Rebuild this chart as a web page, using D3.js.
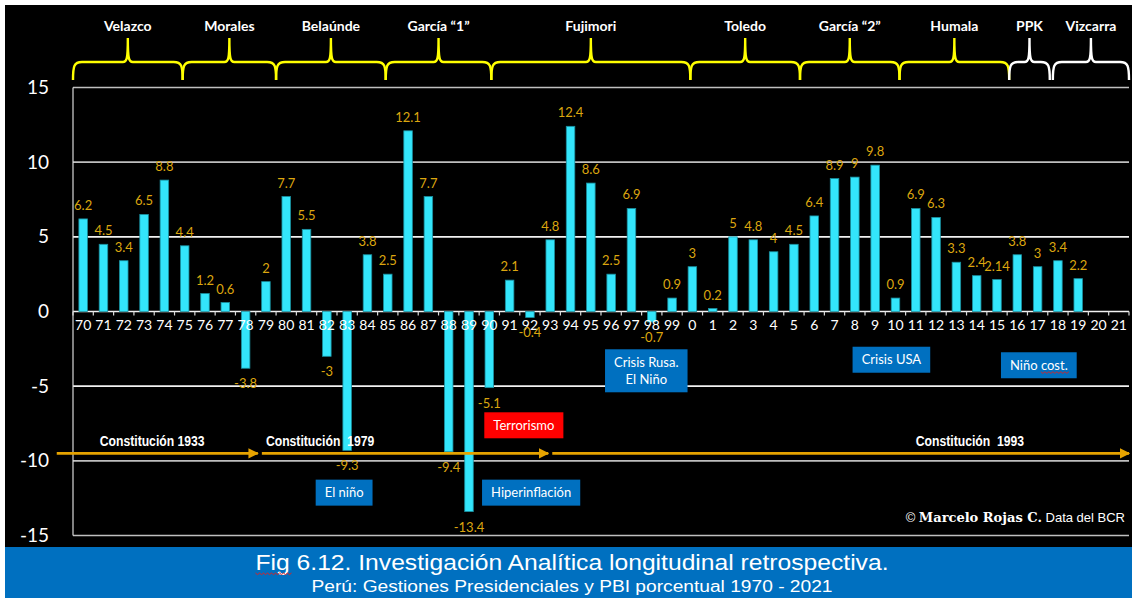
<!DOCTYPE html>
<html lang="es">
<head>
<meta charset="utf-8">
<title>PBI Perú 1970-2021</title>
<script src="https://d3js.org/d3.v7.min.js"></script>
<style>
  body { margin: 0; background: #fff; }
  svg { display: block; }
</style>
</head>
<body>
<div id="chart"></div>
<script>

// Years on the axis and PBI growth (%)
var years = ["70","71","72","73","74","75","76","77","78","79",
             "80","81","82","83","84","85","86","87","88","89",
             "90","91","92","93","94","95","96","97","98","99",
             "0","1","2","3","4","5","6","7","8","9",
             "10","11","12","13","14","15","16","17","18","19","20","21"];
var pbi = [6.2, 4.5, 3.4, 6.5, 8.8, 4.4, 1.2, 0.6, -3.8, 2,
           7.7, 5.5, -3, -9.3, 3.8, 2.5, 12.1, 7.7, -9.4, -13.4,
           -5.1, 2.1, -0.4, 4.8, 12.4, 8.6, 2.5, 6.9, -0.7, 0.9,
           3, 0.2, 5, 4.8, 4, 4.5, 6.4, 8.9, 9, 9.8,
           0.9, 6.9, 6.3, 3.3, 2.4, 2.14, 3.8, 3, 3.4, 2.2, null, null];
var yTicks = [15, 10, 5, 0, -5, -10, -15];

// presidential terms (in years)
var presidents = ["Velazco", "Morales", "Belaúnde", "García “1”", "Fujimori",
                  "Toledo", "García “2”", "Humala", "PPK", "Vizcarra"];
var termStart = [1970, 1975.4, 1980, 1985.4, 1990.6, 2000.4, 2005.8, 2010.7, 2016.1, 2018.25];
var termEnd   = [1975.4, 1980, 1985.4, 1990.6, 2000.4, 2005.8, 2010.7, 2016.1, 2018.1, 2022];
var termWhite = [false, false, false, false, false, false, false, false, true, true];

// constitutions
var constitutions = ["Constitución 1933", "Constitución  1979", "Constitución  1993"];
var constFrom = [1969.2, 1979.3, 1993.6];
var constTo   = [1979.1, 1993.4, 2022];
var constText = [1973.9, 1979.5, 2011.5];

// events
var events     = [["Terrorismo"], ["El niño"], ["Hiperinflación"], ["Crisis Rusa.", "El Niño"], ["Crisis USA"], ["Niño cost."]];
var eventYear  = [1992.2, 1983.35, 1992.56, 1998.23, 2010.3, 2017.56];
var eventValue = [-7.62, -12.13, -12.13, -3.97, -3.23, -3.6];
var eventColor = ["#ff0000", "#0070c0", "#0070c0", "#0070c0", "#0070c0", "#0070c0"];

var width = 1134, height = 598;
var plotLeft = 73, plotRight = 1129, plotTop = 87.5, plotBottom = 535.5;

var svg = d3.select("#chart")
  .append("svg")
  .attr("width", width)
  .attr("height", height);

// backgrounds
svg.append("rect").attr("x", 5).attr("y", 5).attr("width", 1127).attr("height", 543).attr("fill", "#000");
svg.append("rect").attr("x", 5).attr("y", 547).attr("width", 1127).attr("height", 51).attr("fill", "#0070c0");

var x = d3.scaleBand()
  .domain(years)
  .range([plotLeft, plotRight])
  .paddingInner(0.58)
  .paddingOuter(0.29);

var xYear = d3.scaleLinear().domain([1970, 2022]).range([plotLeft, plotRight]);

var y = d3.scaleLinear().domain([-15, 15]).range([plotBottom, plotTop]);

var fontMain = "Lato, 'Open Sans', sans-serif";
var fontNarrow = "'Liberation Sans Narrow', 'Arial Narrow', 'Liberation Sans', sans-serif";

// gridlines
svg.append("g")
  .selectAll("line")
  .data(yTicks)
  .enter()
  .append("line")
    .attr("x1", plotLeft)
    .attr("x2", plotRight)
    .attr("y1", function(d) { return y(d); })
    .attr("y2", function(d) { return y(d); })
    .attr("stroke", function(d) { return (d === 5 || d === -5 || d === 0) ? "#f2f2f2" : "#bfbfbf"; })
    .attr("stroke-width", 1.6);

// y axis
svg.append("line")
  .attr("x1", plotLeft).attr("x2", plotLeft)
  .attr("y1", y(15)).attr("y2", y(-15))
  .attr("stroke", "#d9d9d9").attr("stroke-width", 1.2);

var yAxis = svg.append("g")
  .attr("transform", "translate(" + plotLeft + ",0)")
  .call(d3.axisLeft(y).tickValues(yTicks).tickSize(0).tickPadding(24).tickFormat(function(d) { return String(d); }));
yAxis.select(".domain").remove();
yAxis.selectAll("text")
  .attr("fill", "#fff")
  .style("font-family", fontMain)
  .style("font-size", "19px");

var barData = years.map(function(d, i) { return {year: d, value: pbi[i]}; })
  .filter(function(d) { return d.value !== null; });

// bars
svg.append("g")
  .selectAll("rect")
  .data(barData)
  .enter()
  .append("rect")
    .attr("x", function(d) { return x(d.year); })
    .attr("width", x.bandwidth())
    .attr("y", function(d) { return y(Math.max(0, d.value)); })
    .attr("height", function(d) { return Math.abs(y(d.value) - y(0)); })
    .attr("fill", "#33e5fb")
    .attr("stroke", "#1a8f9f")
    .attr("stroke-width", 0.8);

// x axis ticks at band boundaries
svg.append("g")
  .selectAll("line")
  .data(d3.range(1970, 2023))
  .enter()
  .append("line")
    .attr("x1", function(d) { return xYear(d); })
    .attr("x2", function(d) { return xYear(d); })
    .attr("y1", y(0))
    .attr("y2", y(0) + 4)
    .attr("stroke", "#d9d9d9")
    .attr("stroke-width", 1.2);

var xAxis = svg.append("g")
  .attr("transform", "translate(0," + y(0) + ")")
  .call(d3.axisBottom(x).tickSize(0).tickPadding(9));
xAxis.select(".domain").remove();
xAxis.selectAll("text")
  .attr("fill", "#fff")
  .style("font-family", fontMain)
  .style("font-size", "14px");

// value labels
svg.append("g")
  .selectAll("text")
  .data(barData)
  .enter()
  .append("text")
    .attr("x", function(d) { return x(d.year) + x.bandwidth() / 2; })
    .attr("y", function(d) { return d.value >= 0 ? y(d.value) - 9 : y(d.value) + 20; })
    .attr("text-anchor", "middle")
    .attr("fill", "#dca60f")
    .style("font-family", fontMain)
    .style("font-size", "13px")
    .text(function(d) { return String(d.value); });

// presidential braces
var armY = 62, endY = 80, peakY = 38;
function brace(x0, x1) {
  var xm = (x0 + x1) / 2;
  return "M" + x0 + "," + endY +
    " C" + x0 + "," + (armY + 4) + " " + (x0 + 1) + "," + armY + " " + (x0 + 9) + "," + armY +
    " L" + (xm - 5) + "," + armY +
    " C" + (xm - 1) + "," + armY + " " + xm + "," + (armY - 3) + " " + xm + "," + peakY +
    " C" + xm + "," + (armY - 3) + " " + (xm + 1) + "," + armY + " " + (xm + 5) + "," + armY +
    " L" + (x1 - 9) + "," + armY +
    " C" + (x1 - 1) + "," + armY + " " + x1 + "," + (armY + 4) + " " + x1 + "," + endY;
}
var terms = presidents.map(function(p, i) {
  return {name: p, from: termStart[i], to: termEnd[i], white: termWhite[i]};
});
var gTerms = svg.append("g");
gTerms.selectAll("path")
  .data(terms)
  .enter()
  .append("path")
    .attr("d", function(d) { return brace(xYear(d.from), xYear(d.to)); })
    .attr("fill", "none")
    .attr("stroke", function(d) { return d.white ? "#ffffff" : "#ffff00"; })
    .attr("stroke-width", 2.4);
gTerms.selectAll("text")
  .data(terms)
  .enter()
  .append("text")
    .attr("x", function(d) { return (xYear(d.from) + xYear(d.to)) / 2; })
    .attr("y", 31)
    .attr("text-anchor", "middle")
    .attr("fill", "#fff")
    .style("font-family", fontMain)
    .style("font-weight", "bold")
    .style("font-size", "14px")
    .text(function(d) { return d.name; });

// constitution arrows
var defs = svg.append("defs");
defs.append("marker")
  .attr("id", "arrow")
  .attr("viewBox", "0 0 10 10")
  .attr("refX", 9).attr("refY", 5)
  .attr("markerWidth", 4).attr("markerHeight", 4)
  .attr("orient", "auto")
  .append("path")
    .attr("d", "M0,0 L10,5 L0,10 Z")
    .attr("fill", "#e6a300");

var cons = constitutions.map(function(c, i) {
  return {name: c, from: constFrom[i], to: constTo[i], tx: constText[i]};
});
var gCons = svg.append("g");
gCons.selectAll("line")
  .data(cons)
  .enter()
  .append("line")
    .attr("x1", function(d) { return xYear(d.from); })
    .attr("x2", function(d) { return xYear(d.to); })
    .attr("y1", y(-9.5))
    .attr("y2", y(-9.5))
    .attr("stroke", "#e6a300")
    .attr("stroke-width", 2.6)
    .attr("marker-end", "url(#arrow)");
gCons.selectAll("text")
  .data(cons)
  .enter()
  .append("text")
    .attr("x", function(d) { return xYear(d.tx); })
    .attr("y", y(-9.5) - 7)
    .attr("text-anchor", function(d, i) { return i === 0 ? "middle" : "start"; })
    .attr("fill", "#fff")
    .style("font-family", fontNarrow)
    .style("font-weight", "bold")
    .style("font-size", "14px")
    .style("white-space", "pre")
    .text(function(d) { return d.name; })
    .each(function() {
      // narrow the face like the original condensed font
      var w = this.getComputedTextLength();
      d3.select(this).attr("textLength", w * 0.87).attr("lengthAdjust", "spacingAndGlyphs");
    });

// event boxes
var ev = events.map(function(e, i) {
  return {lines: e, yr: eventYear[i], val: eventValue[i], color: eventColor[i]};
});
var gEv = svg.append("g").selectAll("g")
  .data(ev)
  .enter()
  .append("g")
    .attr("transform", function(d) { return "translate(" + xYear(d.yr) + "," + y(d.val) + ")"; });
gEv.append("rect");
gEv.append("text")
  .attr("text-anchor", "middle")
  .attr("fill", "#fff")
  .style("font-family", fontMain)
  .style("font-size", "13px")
  .each(function(d) {
    var t = d3.select(this);
    var n = d.lines.length;
    d.lines.forEach(function(l, k) {
      t.append("tspan")
        .attr("x", 0)
        .attr("y", (k - (n - 1) / 2) * 17 + 4.5)
        .text(l);
    });
  });
gEv.each(function(d) {
  var g = d3.select(this);
  var bb = g.select("text").node().getBBox();
  var w = bb.width + 18, h = d.lines.length * 17 + 9;
  g.select("rect")
    .attr("x", -w / 2).attr("y", -h / 2)
    .attr("width", w).attr("height", h)
    .attr("fill", d.color);
});

// spell-check squiggle helper
function squiggle(x0, x1, yy) {
  var p = "M" + x0 + "," + yy;
  for (var xx = x0, k = 0; xx < x1; xx += 2, k++) {
    p += " L" + (xx + 2) + "," + (yy + (k % 2 ? 0 : 1.6));
  }
  return p;
}
// under "cost."
gEv.filter(function(d) { return d.lines[0] === "Niño cost."; }).each(function() {
  var tsp = d3.select(this).select("tspan").node();
  var a = tsp.getExtentOfChar(5), b = tsp.getExtentOfChar(9);
  d3.select(this).append("path")
    .attr("d", squiggle(a.x, b.x + b.width, a.y + a.height - 1))
    .attr("fill", "none").attr("stroke", "#e02020").attr("stroke-width", 0.9);
});

// credit
var credit = svg.append("text")
  .attr("x", 1125)
  .attr("y", 522)
  .attr("text-anchor", "end")
  .attr("fill", "#fff")
  .style("font-size", "13px");
credit.append("tspan").style("font-family", "'Liberation Sans', sans-serif").text("© ");
credit.append("tspan").style("font-family", "'DejaVu Serif', serif").style("font-weight", "bold").text("Marcelo Rojas C.");
credit.append("tspan").style("font-family", "'Liberation Sans', sans-serif").text(" Data del BCR");

// caption
var cap1 = svg.append("text")
  .attr("x", 572)
  .attr("y", 570)
  .attr("text-anchor", "middle")
  .attr("fill", "#fff")
  .attr("textLength", 633)
  .attr("lengthAdjust", "spacingAndGlyphs")
  .style("font-family", fontNarrow)
  .style("font-size", "22px")
  .text("Fig 6.12. Investigación Analítica longitudinal retrospectiva.");
svg.append("text")
  .attr("x", 572)
  .attr("y", 592)
  .attr("text-anchor", "middle")
  .attr("fill", "#fff")
  .attr("textLength", 521)
  .attr("lengthAdjust", "spacingAndGlyphs")
  .style("font-family", fontNarrow)
  .style("font-size", "16px")
  .text("Perú: Gestiones Presidenciales y PBI porcentual 1970 - 2021");

// squiggle under "Fig"
(function() {
  var n = cap1.node();
  var a = n.getExtentOfChar(0), b = n.getExtentOfChar(2);
  svg.append("path")
    .attr("d", squiggle(a.x, b.x + b.width, a.y + a.height - 2))
    .attr("fill", "none").attr("stroke", "#e02020").attr("stroke-width", 1);
})();

</script>
</body>
</html>
